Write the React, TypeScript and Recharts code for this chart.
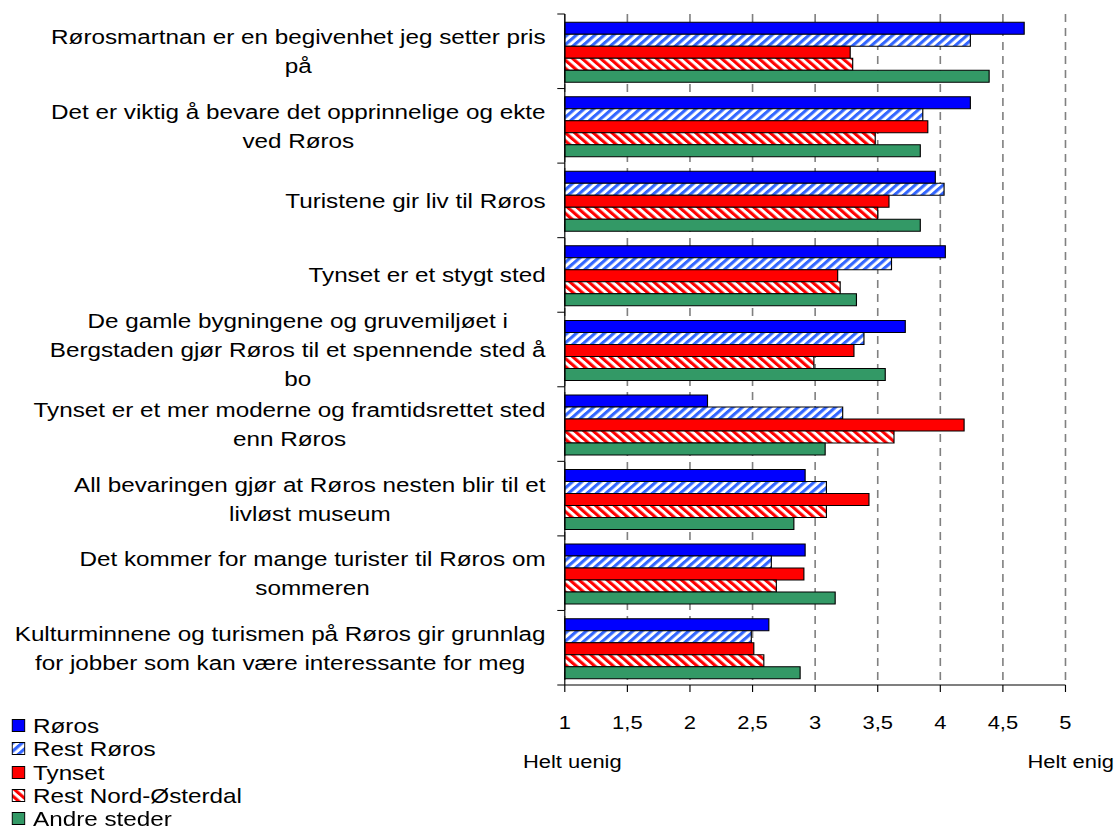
import React from 'react';
import { BarChart, Bar, XAxis, YAxis, CartesianGrid } from 'recharts';

// categories, wrapped the way the source chart wraps them
const categories = [
  'Rørosmartnan er en begivenhet jeg setter pris\npå',
  'Det er viktig å bevare det opprinnelige og ekte\nved Røros',
  'Turistene gir liv til Røros',
  'Tynset er et stygt sted',
  'De gamle bygningene og gruvemiljøet i\nBergstaden gjør Røros til et spennende sted å\nbo',
  'Tynset er et mer moderne og framtidsrettet sted\nenn Røros',
  'All bevaringen gjør at Røros nesten blir til et\nlivløst museum',
  'Det kommer for mange turister til Røros om\nsommeren',
  'Kulturminnene og turismen på Røros gir grunnlag\nfor jobber som kan være interessante for meg',
];

const roros = [4.67, 4.24, 3.96, 4.04, 3.72, 2.14, 2.92, 2.92, 2.63];
const restRoros = [4.24, 3.86, 4.03, 3.61, 3.39, 3.22, 3.09, 2.65, 2.49];
const tynset = [3.28, 3.9, 3.59, 3.18, 3.31, 4.19, 3.43, 2.91, 2.51];
const restNord = [3.3, 3.48, 3.5, 3.2, 2.99, 3.63, 3.09, 2.69, 2.59];
const andre = [4.39, 3.84, 3.84, 3.33, 3.56, 3.08, 2.83, 3.16, 2.88];

const seriesNames = ['Røros', 'Rest Røros', 'Tynset', 'Rest Nord-Østerdal', 'Andre steder'];
const xTicks = [1, 1.5, 2, 2.5, 3, 3.5, 4, 4.5, 5];
const endLabels = ['Helt uenig', 'Helt enig'];

const data = categories.map((name, i) => ({
  name,
  roros: roros[i],
  restRoros: restRoros[i],
  tynset: tynset[i],
  restNord: restNord[i],
  andre: andre[i],
}));

// the reference image is stretched sideways, so the chart is drawn narrow and scaled
const STRETCH = 1.155;
const W = 966;
const H = 828;
const FONT = '"Liberation Sans", Arial, sans-serif';
const FS = 21;
const XFS = 19;
const LH = 29;

const series = [
  { key: 'roros', fill: '#0000FF' },
  { key: 'restRoros', fill: 'url(#stripeBlue)' },
  { key: 'tynset', fill: '#FF0000' },
  { key: 'restNord', fill: 'url(#stripeRed)' },
  { key: 'andre', fill: '#339966' },
];

let ctx: CanvasRenderingContext2D | null = null;
const measure = (s: string) => {
  if (!ctx) {
    ctx = document.createElement('canvas').getContext('2d');
    if (ctx) ctx.font = `${FS}px "Liberation Sans", Arial, sans-serif`;
  }
  return ctx ? ctx.measureText(s).width : s.length * 10;
};

const Y_TICK = 6.5;
const Y_MARGIN = 10;

const CatTick = (props: any) => {
  const { x, y, payload, index } = props;
  const axisX = x + Y_TICK + Y_MARGIN;
  const half = payload.offset || (685 - 14) / 18;
  const lines = String(payload.value).split('\n');
  const block = Math.max(...lines.map(measure));
  const cx = x - block / 2;
  const first = y - ((lines.length - 1) * LH) / 2 + 7.5;
  const last = index === categories.length - 1;
  return (
    <g>
      <line x1={axisX - Y_TICK} x2={axisX} y1={y - half} y2={y - half} stroke="#000" />
      {last && <line x1={axisX - Y_TICK} x2={axisX} y1={y + half} y2={y + half} stroke="#000" />}
      <text textAnchor="middle" fontSize={FS} fontFamily={FONT} fill="#000">
        {lines.map((l, i) => (
          <tspan key={i} x={cx} y={first + i * LH}>{l}</tspan>
        ))}
      </text>
    </g>
  );
};

const XTick = (props: any) => {
  const { x, y, payload } = props;
  const v = payload.value;
  return (
    <g>
      <text x={x} y={y} dy={29} textAnchor="middle" fontSize={XFS} fontFamily={FONT} fill="#000">
        {String(v).replace('.', ',')}
      </text>
      {v === xTicks[0] && (
        <text x={x + 6.5} y={y} dy={68} textAnchor="middle" fontSize={XFS} fontFamily={FONT} fill="#000">
          {endLabels[0]}
        </text>
      )}
      {v === xTicks[xTicks.length - 1] && (
        <text x={x + 4.5} y={y} dy={68} textAnchor="middle" fontSize={XFS} fontFamily={FONT} fill="#000">
          {endLabels[1]}
        </text>
      )}
    </g>
  );
};

const Stripes = ({ id, color, angle }: { id: string; color: string; angle: number }) => (
  <pattern id={id} patternUnits="userSpaceOnUse" width="5.7" height="5.7" patternTransform={`rotate(${angle})`}>
    <rect width="5.7" height="5.7" fill="#fff" />
    <rect width="2.9" height="5.7" fill={color} />
  </pattern>
);

const LegendKey = ({ i }: { i: number }) => (
  <svg width={12} height={13} style={{ display: 'block' }}>
    <defs>
      <Stripes id={`lgBlue${i}`} color="#3366FF" angle={45} />
      <Stripes id={`lgRed${i}`} color="#FF0000" angle={-45} />
    </defs>
    <rect
      x={0.5}
      y={0.5}
      width={11}
      height={12}
      stroke="#000"
      fill={series[i].fill.replace('#stripeBlue', `#lgBlue${i}`).replace('#stripeRed', `#lgRed${i}`)}
    />
  </svg>
);

const App: React.FC = () => {
  return (
    <div
      style={{
        position: 'absolute',
        left: 0,
        top: 0,
        width: W,
        height: H,
        transform: `scale(${STRETCH}, 1)`,
        transformOrigin: '0 0',
        background: '#fff',
      }}
    >
      <BarChart
        width={W}
        height={H}
        data={data}
        layout="vertical"
        margin={{ top: 14, right: 43.5, left: 0, bottom: 83 }}
        barCategoryGap="11%"
        barGap={0}
      >
        <defs>
          <Stripes id="stripeBlue" color="#3366FF" angle={45} />
          <Stripes id="stripeRed" color="#FF0000" angle={-45} />
        </defs>
        <CartesianGrid horizontal={false} stroke="#808080" strokeWidth={1.4} strokeDasharray="8 6" />
        <XAxis
          type="number"
          domain={[1, 5]}
          ticks={xTicks}
          interval={0}
          tick={<XTick />}
          tickSize={7}
          tickMargin={8}
          tickLine={{ stroke: '#000' }}
          axisLine={{ stroke: '#000' }}
          height={60}
        />
        <YAxis
          type="category"
          dataKey="name"
          width={489}
          interval={0}
          tick={<CatTick />}
          tickLine={false}
          tickSize={Y_TICK}
          tickMargin={Y_MARGIN}
          axisLine={{ stroke: '#000' }}
        />
        {series.map((s, i) => (
          <Bar
            key={s.key}
            dataKey={s.key}
            name={seriesNames[i]}
            fill={s.fill}
            stroke="#000"
            strokeWidth={1}
            isAnimationActive={false}
          />
        ))}
      </BarChart>

      {/* legend, bottom left */}
      <div
        style={{
          position: 'absolute',
          left: 10,
          top: 714,
          fontFamily: FONT,
          fontSize: FS,
          lineHeight: '23.3px',
          color: '#000',
        }}
      >
        {seriesNames.map((n, i) => (
          <div key={n} style={{ display: 'flex', alignItems: 'center', height: 23.3 }}>
            <LegendKey i={i} />
            <span style={{ marginLeft: 6.6 }}>{n}</span>
          </div>
        ))}
      </div>
    </div>
  );
};

export default App;
